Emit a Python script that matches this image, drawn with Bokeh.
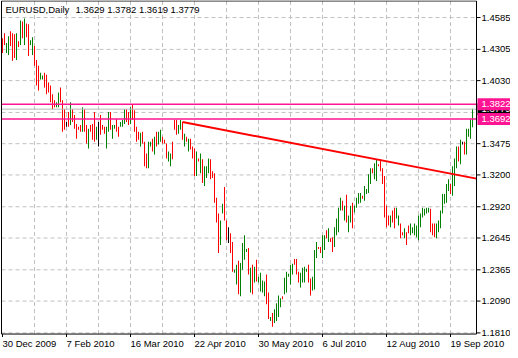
from bokeh.plotting import figure
from bokeh.models import Range1d, ColumnDataSource
from bokeh.core.properties import value
from bokeh.embed import file_html
from bokeh.resources import INLINE

symbol = "EURUSD,Daily"
last_quote = [1.3629, 1.3782, 1.3619, 1.3779]  # open, high, low, close of the last bar

highs = [
    1.4403, 1.4447, 1.4360, 1.4421, 1.4464, 1.4447, 1.4438, 1.4447, 1.4377, 1.4559,
    1.4551, 1.4577, 1.4533, 1.4525, 1.4386, 1.4412, 1.4334, 1.4212, 1.4160, 1.4100,
    1.4074, 1.4100, 1.4082, 1.4013, 1.3987, 1.3909, 1.3857, 1.3840, 1.3926, 1.3970,
    1.3857, 1.3779, 1.3666, 1.3753, 1.3840, 1.3779, 1.3727, 1.3649, 1.3623, 1.3640,
    1.3796, 1.3779, 1.3640, 1.3606, 1.3640, 1.3649, 1.3753, 1.3623, 1.3666, 1.3727,
    1.3640, 1.3623, 1.3623, 1.3753, 1.3753, 1.3640, 1.3640, 1.3692, 1.3623, 1.3666,
    1.3684, 1.3779, 1.3779, 1.3753, 1.3796, 1.3822, 1.3770, 1.3623, 1.3580, 1.3571,
    1.3580, 1.3493, 1.3389, 1.3493, 1.3493, 1.3519, 1.3536, 1.3580, 1.3580, 1.3597,
    1.3536, 1.3510, 1.3476, 1.3406, 1.3389, 1.3493, 1.3684, 1.3684, 1.3640, 1.3684,
    1.3666, 1.3562, 1.3536, 1.3519, 1.3519, 1.3450, 1.3432, 1.3406, 1.3345, 1.3389,
    1.3337, 1.3276, 1.3276, 1.3345, 1.3337, 1.3233, 1.3215, 1.2999, 1.2860, 1.2799,
    1.2947, 1.3094, 1.2799, 1.2739, 1.2687, 1.2609, 1.2366, 1.2409, 1.2444, 1.2426,
    1.2600, 1.2669, 1.2548, 1.2557, 1.2383, 1.2409, 1.2392, 1.2453, 1.2305, 1.2340,
    1.2270, 1.2262, 1.2323, 1.2166, 1.1950, 1.1984, 1.2019, 1.2071, 1.2140, 1.2114,
    1.2132, 1.2296, 1.2348, 1.2331, 1.2409, 1.2418, 1.2461, 1.2461, 1.2348, 1.2340,
    1.2383, 1.2392, 1.2374, 1.2409, 1.2288, 1.2305, 1.2539, 1.2609, 1.2565, 1.2565,
    1.2669, 1.2669, 1.2713, 1.2730, 1.2643, 1.2652, 1.2739, 1.2817, 1.2912, 1.2999,
    1.2973, 1.2929, 1.3025, 1.2843, 1.2929, 1.2955, 1.2929, 1.2999, 1.3042, 1.3042,
    1.3016, 1.3103, 1.3077, 1.3207, 1.3259, 1.3259, 1.3302, 1.3337, 1.3293, 1.3337,
    1.3259, 1.3190, 1.2929, 1.2843, 1.2843, 1.2886, 1.2912, 1.2912, 1.2843, 1.2773,
    1.2695, 1.2730, 1.2695, 1.2756, 1.2773, 1.2739, 1.2773, 1.2756, 1.2843, 1.2860,
    1.2912, 1.2903, 1.2912, 1.2912, 1.2903, 1.2773, 1.2773, 1.2773, 1.2799, 1.2886,
    1.3033, 1.3033, 1.3120, 1.3163, 1.3120, 1.3276, 1.3345, 1.3450, 1.3450, 1.3510,
    1.3493, 1.3493, 1.3606, 1.3606, 1.3692, 1.3782,
]

lows = [
    1.4273, 1.4343, 1.4273, 1.4256, 1.4334, 1.4204, 1.4230, 1.4212, 1.4325, 1.4343,
    1.4403, 1.4343, 1.4412, 1.4247, 1.4343, 1.4256, 1.4160, 1.3987, 1.3944, 1.4039,
    1.4039, 1.3970, 1.3909, 1.3926, 1.3840, 1.3779, 1.3796, 1.3796, 1.3796, 1.3840,
    1.3580, 1.3597, 1.3623, 1.3623, 1.3640, 1.3666, 1.3606, 1.3519, 1.3597, 1.3580,
    1.3580, 1.3580, 1.3476, 1.3432, 1.3580, 1.3510, 1.3493, 1.3510, 1.3450, 1.3554,
    1.3597, 1.3562, 1.3432, 1.3580, 1.3597, 1.3519, 1.3606, 1.3580, 1.3536, 1.3623,
    1.3623, 1.3649, 1.3666, 1.3640, 1.3649, 1.3684, 1.3580, 1.3493, 1.3510, 1.3450,
    1.3476, 1.3276, 1.3259, 1.3259, 1.3450, 1.3406, 1.3380, 1.3450, 1.3467, 1.3493,
    1.3476, 1.3476, 1.3345, 1.3319, 1.3276, 1.3337, 1.3597, 1.3554, 1.3562, 1.3597,
    1.3510, 1.3450, 1.3493, 1.3406, 1.3424, 1.3345, 1.3190, 1.3190, 1.3319, 1.3215,
    1.3129, 1.3103, 1.3172, 1.3215, 1.3163, 1.3172, 1.2955, 1.2782, 1.2513, 1.2583,
    1.2860, 1.2799, 1.2626, 1.2600, 1.2513, 1.2348, 1.2340, 1.2236, 1.2149, 1.2132,
    1.2366, 1.2453, 1.2522, 1.2323, 1.2166, 1.2149, 1.2253, 1.2262, 1.2253, 1.2175,
    1.2166, 1.2132, 1.2063, 1.1932, 1.1915, 1.1863, 1.1898, 1.1915, 1.1950, 1.2036,
    1.2106, 1.2149, 1.2166, 1.2305, 1.2236, 1.2323, 1.2409, 1.2323, 1.2253, 1.2210,
    1.2253, 1.2253, 1.2348, 1.2253, 1.2140, 1.2184, 1.2192, 1.2470, 1.2548, 1.2513,
    1.2470, 1.2539, 1.2643, 1.2609, 1.2609, 1.2522, 1.2565, 1.2669, 1.2695, 1.2886,
    1.2886, 1.2799, 1.2782, 1.2695, 1.2782, 1.2730, 1.2869, 1.2912, 1.2947, 1.2955,
    1.2990, 1.2973, 1.3033, 1.3042, 1.3120, 1.3215, 1.3163, 1.3146, 1.3276, 1.3233,
    1.3120, 1.2825, 1.2739, 1.2756, 1.2739, 1.2782, 1.2730, 1.2817, 1.2756, 1.2643,
    1.2669, 1.2643, 1.2583, 1.2687, 1.2669, 1.2687, 1.2669, 1.2652, 1.2626, 1.2739,
    1.2825, 1.2843, 1.2860, 1.2869, 1.2695, 1.2669, 1.2652, 1.2643, 1.2695, 1.2730,
    1.2860, 1.2947, 1.2955, 1.3059, 1.3033, 1.3016, 1.3103, 1.3259, 1.3319, 1.3293,
    1.3467, 1.3380, 1.3380, 1.3536, 1.3519, 1.3619,
]

# G = bull bar, R = bear bar, K = unchanged
bar_dir = ("RRGGRRRGRG" "RGRRGGRRRG" "GRRRRRRGGR" "RRKRGRRRRR" "GRRGRRRGKR"
           "RRGGRGGRRG" "GGRRGRRRRG" "RRRGGRGRGG" "RRRGGRRRGG" "RGRGRRRGRG"
           "RGGGRRRRRG" "GRRKRRGGRG" "GGGRGRGRGG" "GGRRGRGGGG" "RGGGGGRRRG"
           "GGGRRGGGRR" "GGRGRRGGGG" "RGRGGRGGGG" "RGGGGRGGRR" "RRRRGRRGGR"
           "RGRRGGGGGG" "GGGGRRRGGG" "GGGGRGGGRG" "KRGGGG")

date_ticks = [0, 32, 64, 96, 128, 160, 192, 224]
date_labels = ["30 Dec 2009", "7 Feb 2010", "16 Mar 2010", "22 Apr 2010",
               "30 May 2010", "6 Jul 2010", "12 Aug 2010", "19 Sep 2010"]
price_ticks = [1.4585, 1.4305, 1.4030, 1.3475, 1.3200, 1.2920, 1.2645, 1.2365, 1.2090, 1.1810]
price_grid = [1.4585, 1.4305, 1.4030, 1.3750, 1.3475, 1.3200, 1.2920, 1.2645, 1.2365, 1.2090, 1.1810]
time_grid = [16, 32, 48, 64, 80, 96, 112, 128, 144, 160, 176, 192, 208, 224]
level_lines = [1.3822, 1.3692]
trend_x = [90, 187]
trend_y = [1.3666, 1.3337]

# ---- layout (canvas = frame, 2 px per bar) ----
W, H = 510, 350
PX_PER_BAR = 2.0
x_start = -1.0
x_end = x_start + W / PX_PER_BAR
PPU = 1136.4                      # pixels per price unit
y_top = 1.4735
y_bottom = y_top - H / PPU
PX = 1.0 / PPU                    # one pixel in price units
plot_left, plot_right = -0.5, 237.0
plot_top, plot_bottom = 1.4731, 1.1800

FONT = value("Liberation Sans")
FS = "9.5px"
colour_of = {"G": "#008000", "R": "#ff0000", "K": "#000000"}

p = figure(width=W, height=H, output_backend="svg", toolbar_location=None,
           x_range=Range1d(x_start, x_end), y_range=Range1d(y_bottom, y_top),
           x_axis_location=None, y_axis_location=None, min_border=0)
p.grid.visible = False
p.outline_line_color = None
p.background_fill_color = "white"
p.border_fill_color = "white"

# grid
n_tg = len(time_grid)
p.segment(x0=time_grid, x1=time_grid, y0=[plot_bottom] * n_tg, y1=[plot_top] * n_tg,
          line_color="#c0c0c0", line_dash="4 3", line_width=1)
n_pg = len(price_grid)
p.segment(x0=[plot_left] * n_pg, x1=[plot_right] * n_pg, y0=price_grid, y1=price_grid,
          line_color="#c0c0c0", line_dash="4 3", line_width=1)

# bars: 1-px wide high-low bars
idx = list(range(len(highs)))
src = ColumnDataSource(dict(x=idx, hi=highs, lo=lows, c=[colour_of[d] for d in bar_dir]))
p.vbar(x="x", width=1.0 / PX_PER_BAR, bottom="lo", top="hi", fill_color="c",
       line_color=None, source=src)

# horizontal levels and bid line
p.segment(x0=[plot_left] * 2, x1=[plot_right] * 2, y0=level_lines, y1=level_lines,
          line_color="#ff1493", line_width=1.5)
p.segment(x0=[plot_left], x1=[plot_right], y0=[last_quote[3]], y1=[last_quote[3]],
          line_color="#b8b8b8", line_width=1)

# trend line, extended to the right edge
slope = (trend_y[1] - trend_y[0]) / (trend_x[1] - trend_x[0])
p.segment(x0=[trend_x[0]], y0=[trend_y[0]], x1=[plot_right],
          y1=[trend_y[0] + slope * (plot_right - trend_x[0])],
          line_color="#ff0000", line_width=2)

# chart frame
p.quad(left=[plot_left], right=[plot_right], bottom=[plot_bottom], top=[plot_top],
       fill_color=None, line_color="black", line_width=1)

# right price scale
n_pt = len(price_ticks)
p.segment(x0=[plot_right] * n_pt, x1=[plot_right + 2] * n_pt, y0=price_ticks, y1=price_ticks,
          line_color="black", line_width=1)
p.text(x=[plot_right + 2.5] * n_pt, y=price_ticks, text=[f"{t:.4f}" for t in price_ticks],
       text_baseline="middle", text_align="left", text_font=FONT, text_font_size=FS,
       text_color="black")

# time scale
n_dt = len(date_ticks)
p.segment(x0=date_ticks, x1=date_ticks, y0=[plot_bottom] * n_dt, y1=[plot_bottom - 3 * PX] * n_dt,
          line_color="black", line_width=1)
p.text(x=date_ticks, y=[plot_bottom - 4 * PX] * n_dt, text=date_labels,
       text_baseline="top", text_align="left", text_font=FONT, text_font_size=FS,
       text_color="black")

# price tags on the scale: bid (black) under the two level tags (pink)
def tag(level, fill):
    p.quad(left=[plot_right + 0.5], right=[x_end], bottom=[level - 6 * PX], top=[level + 6 * PX],
           fill_color=fill, line_color=None)
    p.text(x=[plot_right + 2.5], y=[level], text=[f"{level:.4f}"], text_baseline="middle",
           text_align="left", text_font=FONT, text_font_size=FS, text_color="white")

tag(last_quote[3], "black")
for lv in level_lines:
    tag(lv, "#ff1493")

# header text
p.text(x=[plot_left + 2], y=[plot_top - 3 * PX], text=[symbol], text_baseline="top",
       text_align="left", text_font=FONT, text_font_size=FS, text_color="black")
p.text(x=[plot_left + 37], y=[plot_top - 3 * PX], text=[" ".join(f"{v:.4f}" for v in last_quote)],
       text_baseline="top", text_align="left", text_font=FONT, text_font_size=FS,
       text_color="black")

open("out.html", "w").write(file_html(p, INLINE))
